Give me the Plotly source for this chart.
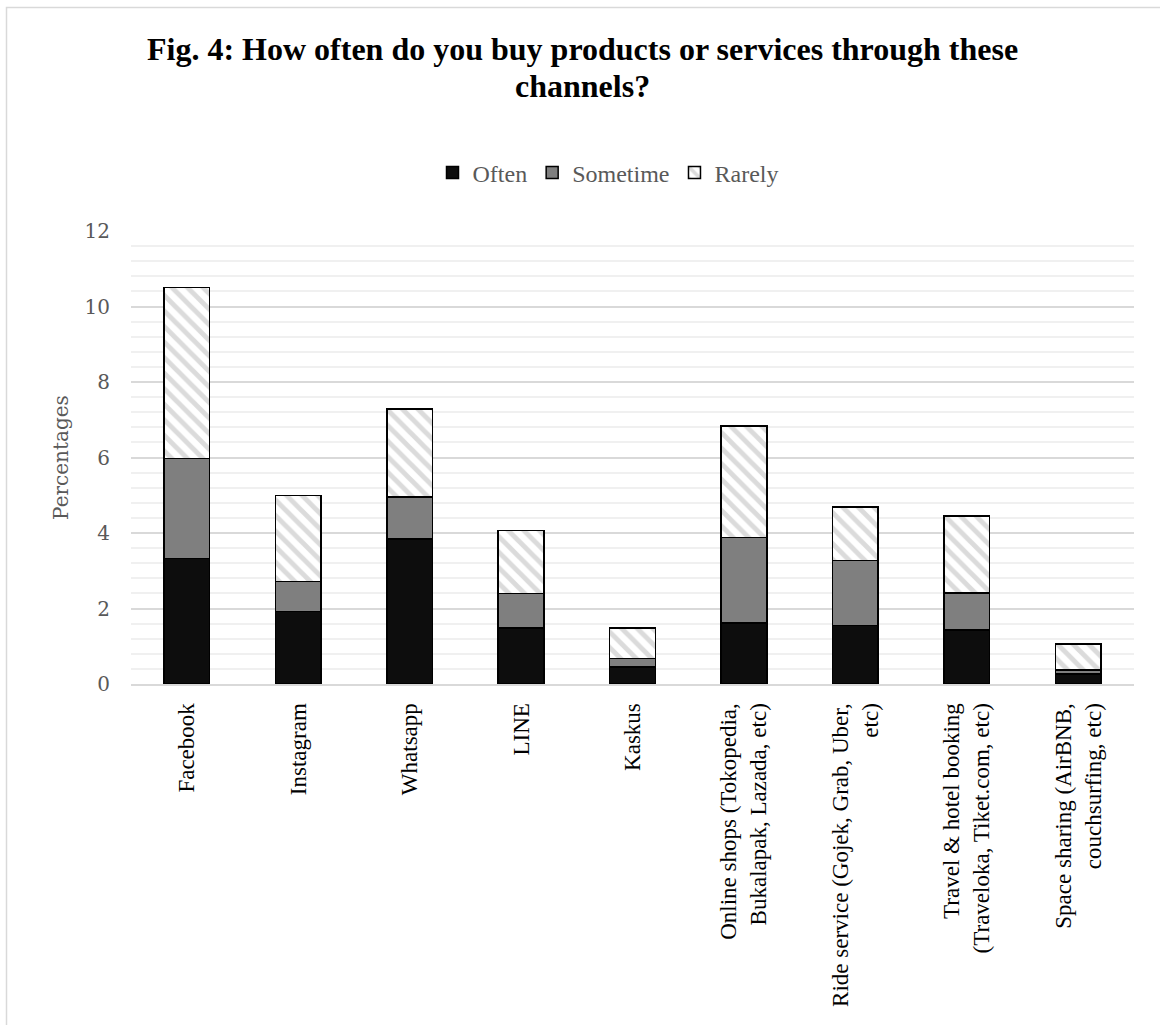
import plotly.graph_objects as go

categories = [
    "Facebook",
    "Instagram",
    "Whatsapp",
    "LINE",
    "Kaskus",
    "Online shops (Tokopedia,<br>Bukalapak, Lazada, etc)",
    "Ride service (Gojek, Grab, Uber,<br>etc)",
    "Travel & hotel booking<br>(Traveloka, Tiket.com, etc)",
    "Space sharing (AirBNB,<br>couchsurfing, etc)",
]
often = [3.33, 1.92, 3.84, 1.48, 0.45, 1.62, 1.55, 1.43, 0.26]
sometime = [2.65, 0.79, 1.11, 0.92, 0.23, 2.26, 1.72, 0.98, 0.11]
rarely = [4.52, 2.29, 2.33, 1.67, 0.80, 2.96, 1.42, 2.04, 0.69]
title_lines = ["Fig. 4: How often do you buy products or services through these", "channels?"]

W, H = 1160, 1025
L, R, T, B = 131, 26, 231, 341
PW, PH = W - L - R, H - T - B
TIMES = "Liberation Serif, Times New Roman, serif"
CAMB = "DejaVu Serif, serif"


def px_x(p):
    return (p - L) / PW


def px_y(p):
    return (H - B - p) / PH


fig = go.Figure()
fig.add_trace(go.Bar(name="Often", x=categories, y=often,
                     marker=dict(color="#0d0d0d", line=dict(color="#000000", width=1.5))))
fig.add_trace(go.Bar(name="Sometime", x=categories, y=sometime,
                     marker=dict(color="#7f7f7f", line=dict(color="#000000", width=1.5))))
fig.add_trace(go.Bar(name="Rarely", x=categories, y=rarely,
                     marker=dict(color="#ffffff", line=dict(color="#000000", width=1.5),
                                 pattern=dict(shape="\\", fgcolor="#b8b8b8", bgcolor="#ffffff",
                                              size=11, solidity=0.45))))

fig.update_layout(
    width=W, height=H,
    barmode="stack", bargap=0.59,
    paper_bgcolor="white", plot_bgcolor="white",
    margin=dict(l=L, r=R, t=T, b=B, autoexpand=False),
    legend=dict(orientation="h", x=px_x(608), xanchor="center",
                y=px_y(173), yanchor="middle",
                font=dict(family=TIMES, size=24, color="#595959"),
                itemwidth=30, traceorder="normal"),
    showlegend=True,
)
for line, base in zip(title_lines, [60, 97]):
    fig.add_annotation(text="<b>" + line + "</b>", xref="paper", yref="paper",
                       x=px_x(582), y=px_y(base - 11), xanchor="center", yanchor="middle",
                       showarrow=False,
                       font=dict(family=TIMES, size=32, color="#000000"))

fig.update_xaxes(
    tickangle=-90,
    tickfont=dict(family=TIMES, size=23, color="#000000"),
    ticklabelstandoff=8,
    showline=True, linecolor="#d9d9d9", linewidth=2,
    ticks="", showgrid=False,
)
fig.update_yaxes(
    range=[0, 12], dtick=2, tick0=0,
    tickfont=dict(family=CAMB, size=20, color="#595959"),
    ticklabelstandoff=20,
    title=dict(text="Percentages", font=dict(family=CAMB, size=20, color="#595959"),
               standoff=10),
    showgrid=True, gridcolor="#d9d9d9", gridwidth=1.5,
    minor=dict(dtick=0.4, tick0=0, showgrid=True, gridcolor="#f0f0f0", gridwidth=1.5),
    zeroline=False, showline=False, ticks="",
)
fig.add_shape(type="rect", xref="paper", yref="paper",
              x0=px_x(6.5), x1=px_x(W + 20),
              y0=px_y(H + 20), y1=px_y(7.5),
              line=dict(color="#d9d9d9", width=1.5), fillcolor="rgba(0,0,0,0)", layer="below")

fig.write_html("out.html")
